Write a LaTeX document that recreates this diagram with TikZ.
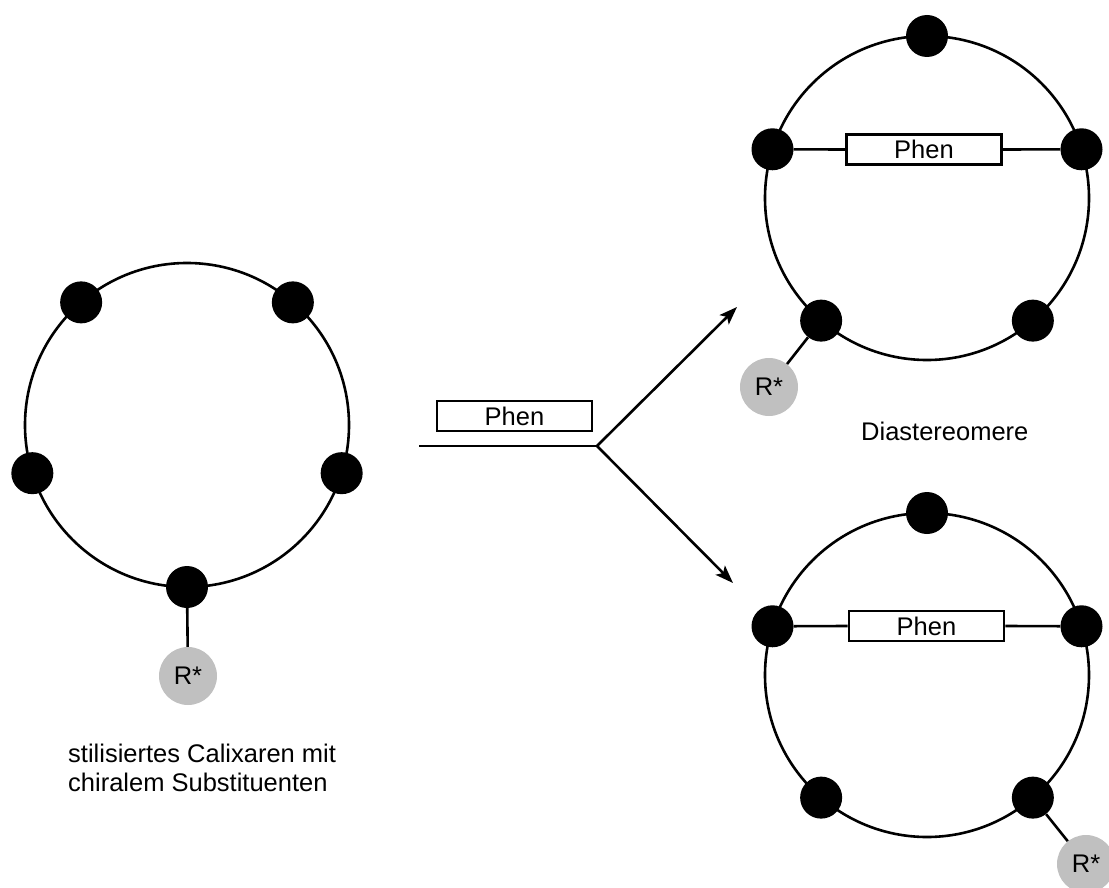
\documentclass[tikz,border=0pt]{standalone}
\usepackage{fontspec}
\setmainfont{Liberation Sans}
\usetikzlibrary{arrows.meta,calc}
\definecolor{rgray}{RGB}{192,192,192}
\begin{document}
\begin{tikzpicture}[x=1pt,y=-1pt,
  ring/.style={draw, line width=2.6pt},
  atom/.style={circle, fill=black, minimum size=42pt, inner sep=0pt},
  rstar/.style={circle, fill=rgray, minimum size=58pt, inner sep=0pt, font=\fontsize{25.5}{25.5}\selectfont},
  phen/.style={draw, line width=2.6pt, minimum width=155pt, minimum height=30pt, inner sep=0pt, font=\fontsize{25.5}{25.5}\selectfont},
  bond/.style={line width=2.6pt},
  arr/.style={line width=2.6pt, -{Stealth[length=18pt,width=13pt,inset=4pt]}},
  lbl/.style={inner sep=0pt, font=\fontsize{25.5}{25.5}\selectfont}
]
\useasboundingbox (0,0) rectangle (1109,888);
\clip (0,0) rectangle (1109,888);

% ---------- left calixarene ----------
\coordinate (cL) at (187,425);
\draw[ring] (cL) circle (162);
\node[atom] (L1) at ($(cL)+(-130.8:162)$) {};
\node[atom] (L2) at ($(cL)+(-49.2:162)$) {};
\node[atom] (L3) at ($(cL)+(162.7:162)$) {};
\node[atom] (L4) at ($(cL)+(17.3:162)$) {};
\node[atom] (L5) at ($(cL)+(90:162)$) {};
\node[rstar] (RL) at (188,676) {R*};
\draw[bond] (L5) -- (RL);
\node[lbl, anchor=base west] (t1) at (68,762) {stilisiertes Calixaren mit};
\node[lbl, anchor=base west] (t2) at (68,791) {chiralem Substituenten};

% ---------- middle reagent and arrows ----------
\node[phen] (PM) at (514.5,416) {Phen};
\coordinate (m0) at (419,446);
\coordinate (mj) at (597,446);
\coordinate (mu) at (737,307);
\coordinate (md) at (733,583);
\draw[line width=2.6pt] (m0) -- (mj);
\draw[arr] (mj) -- (mu);
\draw[arr] (mj) -- (md);

% ---------- top right ----------
\coordinate (cT) at (927,198);
\draw[ring] (cT) circle (162);
\node[atom] (T1) at ($(cT)+(-90:162)$) {};
\node[atom] (T2) at ($(cT)+(197.5:162)$) {};
\node[atom] (T3) at ($(cT)+(-17.5:162)$) {};
\node[atom] (T4) at ($(cT)+(130.8:162)$) {};
\node[atom] (T5) at ($(cT)+(49.2:162)$) {};
\node[phen] (PT) at (924,149.5) {Phen};
\draw[bond] (T2) -- (PT.west);
\draw[bond] (PT.east) -- (T3);
\node[rstar] (RT) at (769,387) {R*};
\draw[bond] (T4) -- (RT);
\node[lbl, anchor=base west] (dia) at (861,440) {Diastereomere};

% ---------- bottom right ----------
\coordinate (cB) at (927,675);
\draw[ring] (cB) circle (162);
\node[atom] (B1) at ($(cB)+(-90:162)$) {};
\node[atom] (B2) at ($(cB)+(197.5:162)$) {};
\node[atom] (B3) at ($(cB)+(-17.5:162)$) {};
\node[atom] (B4) at ($(cB)+(130.8:162)$) {};
\node[atom] (B5) at ($(cB)+(49.2:162)$) {};
\node[phen] (PB) at (926.5,626) {Phen};
\draw[bond] (B2) -- (PB.west);
\draw[bond] (PB.east) -- (B3);
\node[rstar] (RB) at (1086,864) {R*};
\draw[bond] (B5) -- (RB);
\end{tikzpicture}
\end{document}
